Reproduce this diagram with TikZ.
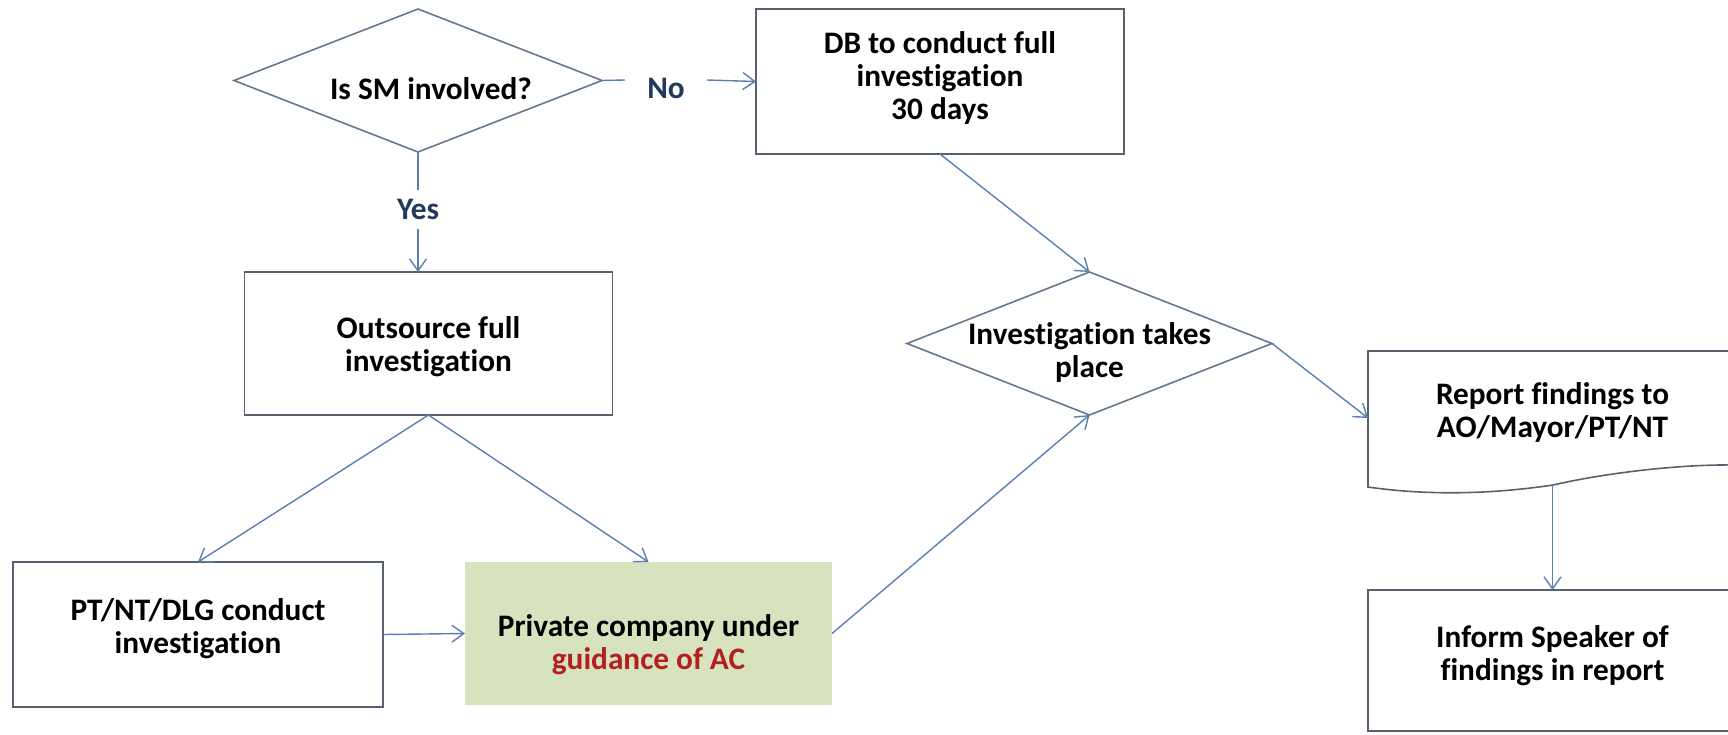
\documentclass[tikz,border=0pt]{standalone}
\usepackage{fontspec}
\setmainfont{Carlito}[RawFeature={-liga;-clig;-calt;-dlig;-rlig}]
\usetikzlibrary{arrows.meta,calc}
\definecolor{boxl}{HTML}{58626F}
\definecolor{dlinec}{HTML}{64788F}
\definecolor{connc}{HTML}{5B80B0}
\definecolor{lbltxt}{HTML}{21395A}
\definecolor{acred}{HTML}{B41F1F}
\definecolor{privfill}{HTML}{D7E3BF}
\newcommand\tsh[2]{\raisebox{-#1}[\height][\depth]{#2}}
\newcommand\mlines[1]{\begin{tabular}{@{}c@{}}#1\end{tabular}}
\begin{document}
\begin{tikzpicture}[x=0.5pt,y=-0.5pt,
  every node/.style={font=\fontsize{15.65pt}{16.5pt}\selectfont\bfseries, text=black, inner sep=0pt, outer sep=0pt},
  procbox/.style={draw=boxl, line width=0.8pt, minimum width=184pt, minimum height=72pt},
  dshape/.style={minimum width=184pt, minimum height=71.5pt},
  dline/.style={draw=dlinec, line width=0.8pt},
  conn/.style={draw=connc, line width=0.7pt},
  arr/.style={conn, -{Straight Barb[length=6pt,width=8.5pt]}},
  lbl/.style={text=lbltxt}]
\useasboundingbox (0,0) rectangle (1728,734);
\clip (0,0) rectangle (1728,734);

% decision: Is SM involved?
\node[dshape] (d1) at (418,80.5) {\tsh{4pt}{\hspace*{13pt}Is SM involved?}};
\draw[dline] (d1.north) -- (d1.east) -- (d1.south) -- (d1.west) -- cycle;

% DB box
\node[procbox, minimum height=72.5pt] (db) at (940,81.5)
  {\tsh{-0.75pt}{\mlines{DB to conduct full\\investigation\\30 days}}};

% No / Yes labels
\node[lbl, minimum width=41pt, minimum height=10pt] (no) at (666,80) {\tsh{4pt}{No}};
\node[lbl, minimum height=19.5pt] (yes) at (418,209.5) {Yes};

% Outsource
\node[procbox, minimum height=71.5pt] (out) at (428.5,343.5)
  {\tsh{2.25pt}{\mlines{Outsource full\\investigation}}};

% PT/NT/DLG
\node[procbox, minimum width=185pt, minimum height=72.5pt] (pt) at (198,634.5)
  {\tsh{-2pt}{\mlines{PT/NT/DLG conduct\\investigation}}};

% Private company
\node[fill=privfill, minimum width=183.5pt, minimum height=71.5pt] (priv) at (648.5,633.5)
  {\tsh{6.25pt}{\mlines{Private company under\\\textcolor{acred}{guidance of AC}}}};

% decision: Investigation takes place
\node[dshape, minimum width=182.5pt] (d2) at (1089.5,343.5)
  {\tsh{5.5pt}{\mlines{Investigation takes\\place}}};
\draw[dline] (d2.north) -- (d2.east) -- (d2.south) -- (d2.west) -- cycle;

% Report (document shape)
\node[minimum width=184.5pt, minimum height=67pt] (report) at (1552.5,418)
  {\tsh{-1.75pt}{\mlines{Report findings to\\AO/Mayor/PT/NT}}};
\draw[draw=boxl, line width=0.8pt]
  ($(report.south west)+(0,2)$) -- (report.north west) -- (report.north east)
  -- ($(report.north east)+(0,114)$)
  .. controls ($(report.north east)+(-57,113)$) and ($(report.south west)+(237,-12)$) .. ($(report.south west)+(185,0)$)
  .. controls ($(report.south west)+(118,10)$) and ($(report.south west)+(55,10)$) .. ($(report.south west)+(0,2)$)
  -- cycle;

% Inform
\node[procbox, minimum width=184.5pt, minimum height=70.5pt] (inform) at (1552.5,660.5)
  {\tsh{-1.75pt}{\mlines{Inform Speaker of\\findings in report}}};

% connectors
\draw[conn] (d1.east) -- (no.west);
\draw[arr] (no.east) -- (db.west);
\draw[conn] (d1.south) -- (yes.north);
\draw[arr] (yes.south) -- (yes.south |- out.north);
\draw[arr] (db.south) -- (d2.north);
\draw[arr] (out.south) -- (pt.north);
\draw[arr] (out.south) -- (priv.north);
\draw[arr] (pt.east) -- (priv.west);
\draw[arr] (priv.east) -- (d2.south);
\draw[arr] (d2.east) -- (report.west);
\draw[arr] (report.south) -- (inform.north);
\end{tikzpicture}
\end{document}
